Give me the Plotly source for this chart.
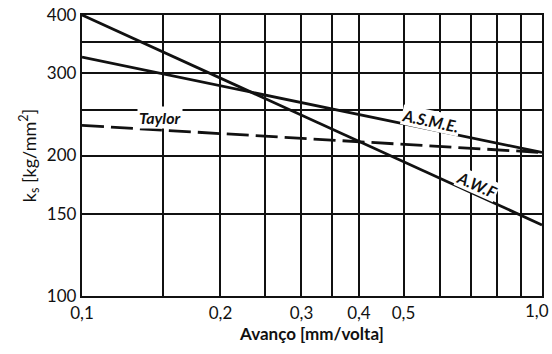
import plotly.graph_objects as go

# Feed range (mm/rev) over which the three laws are plotted
feed = [0.1, 1.0]

# Specific cutting force k_s (kg/mm^2) at each end of the feed range
ks_awf = [400, 142]
ks_asme = [325, 203]
ks_taylor = [232, 203]

# Grid / tick positions (the last feed label is set flush with the page edge below)
x_grid = [0.1, 0.15, 0.2, 0.25, 0.3, 0.35, 0.4, 0.5, 0.6, 0.7, 0.8, 0.9, 1.0]
x_text = ["0,1", " ", "0,2", " ", "0,3", " ", "0,4", "0,5", " ", " ", " ", " ", " "]
x_last_label = "1,0"
y_grid = [100, 150, 200, 250, 300, 350, 400]
y_text = ["100", "150", "200", " ", "300", " ", "400"]

FONT = "Lato"
INK = "#111111"

fig = go.Figure()

line_style = dict(color=INK, width=2.8)
fig.add_trace(go.Scatter(x=feed, y=ks_awf, mode="lines", line=line_style,
                         name="A.W.F", showlegend=False))
fig.add_trace(go.Scatter(x=feed, y=ks_asme, mode="lines", line=line_style,
                         name="A.S.M.E.", showlegend=False))
fig.add_trace(go.Scatter(x=feed, y=ks_taylor, mode="lines",
                         line=dict(color=INK, width=2.8, dash="22px,7px"),
                         name="Taylor", showlegend=False))

label_font = dict(family=FONT, size=16, color=INK, weight="bold")
fig.add_annotation(x=-0.83, y=2.383, xref="x", yref="y", text="<i>Taylor</i>",
                   showarrow=False, font=label_font, bgcolor="white", borderpad=1)
fig.add_annotation(x=-0.241, y=2.377, xref="x", yref="y", text="<i>A.S.M.E.</i>",
                   showarrow=False, font=label_font, textangle=12,
                   bgcolor="white", borderpad=0)
fig.add_annotation(x=-0.141, y=2.238, xref="x", yref="y", text="<i>A.W.F</i>",
                   showarrow=False, font=label_font, textangle=24,
                   bgcolor="white", borderpad=0)

tick_font = dict(family=FONT, size=17, color=INK)
fig.add_annotation(x=1, y=0, xref="paper", yref="paper", text=x_last_label,
                   showarrow=False, font=tick_font, xanchor="right",
                   yanchor="top", xshift=9, yshift=-2)

axis_common = dict(
    showgrid=True, gridcolor=INK, gridwidth=1.7,
    showline=True, linecolor=INK, linewidth=2.4, mirror=True,
    ticks="", zeroline=False, automargin=False,
    tickfont=tick_font,
)

fig.update_xaxes(type="log", range=[-1, 0.0000001], tickmode="array",
                 tickvals=x_grid, ticktext=x_text,
                 title=dict(text="<b>Avanço [mm/volta]</b>",
                            font=dict(family=FONT, size=17, color=INK),
                            standoff=4),
                 **axis_common)
fig.update_yaxes(type="log", range=[2, 2.60206], tickmode="array",
                 tickvals=y_grid, ticktext=y_text,
                 title=dict(text="k<sub>s</sub> [kg/mm<sup>2</sup>]",
                            font=dict(family=FONT, size=18, color=INK),
                            standoff=6),
                 **axis_common)

fig.update_layout(
    width=552, height=354,
    margin=dict(l=82, r=10, t=15, b=58),
    paper_bgcolor="white", plot_bgcolor="white",
)

fig.write_html("out.html")
